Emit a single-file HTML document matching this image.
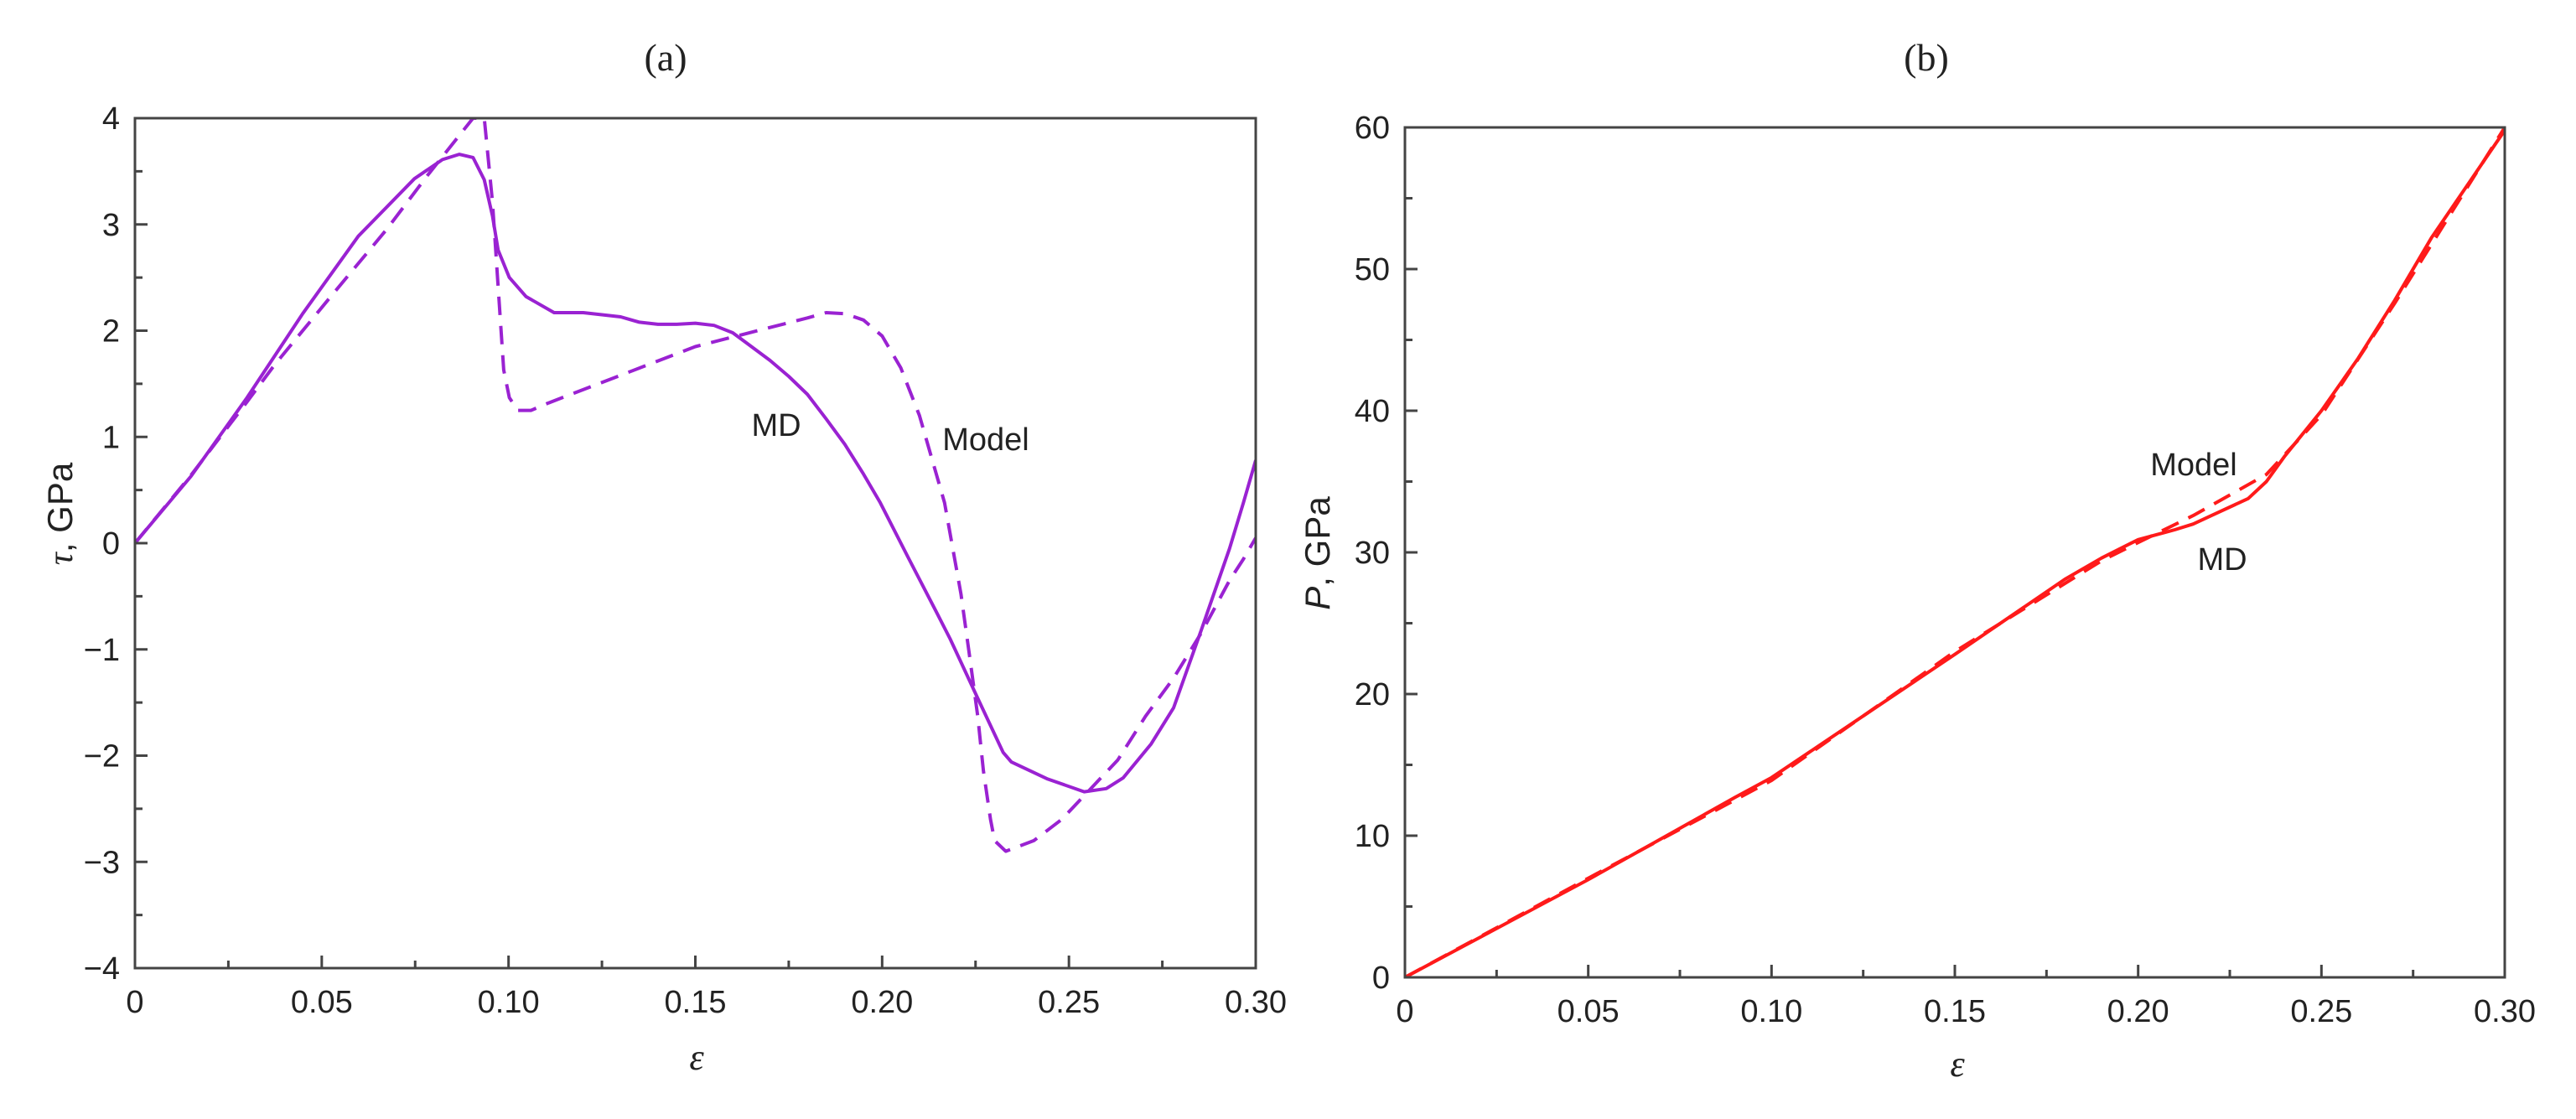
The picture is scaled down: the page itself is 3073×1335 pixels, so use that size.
<!DOCTYPE html>
<html><head><meta charset="utf-8"><style>
html,body{margin:0;padding:0;background:#fff}
svg{display:block}
text{font-family:"Liberation Sans",sans-serif;fill:#222}
</style></head><body>
<svg id="fig" width="3073" height="1335" viewBox="0 0 3073 1335" xmlns="http://www.w3.org/2000/svg"></svg>
<script>
// Panel (a) data
const aMdX = [0,0.015,0.030,0.0449,0.0598,0.0748,0.0823,0.0868,0.0905,0.0935,0.0957,0.0972,0.1002,0.1047,0.1122,0.12,0.125,0.13,0.135,0.14,0.145,0.15,0.155,0.16,0.165,0.17,0.175,0.18,0.185,0.19,0.195,0.1995,0.2069,0.2144,0.2182,0.2256,0.2324,0.2346,0.2443,0.2541,0.26,0.2645,0.272,0.278,0.2855,0.293,0.2967,0.30];
const aMdY = [0,0.63,1.37,2.16,2.89,3.43,3.61,3.66,3.63,3.42,3.08,2.76,2.5,2.32,2.17,2.17,2.15,2.13,2.08,2.06,2.06,2.07,2.05,1.98,1.85,1.72,1.57,1.4,1.17,0.93,0.65,0.38,-0.13,-0.64,-0.9,-1.46,-1.97,-2.06,-2.22,-2.34,-2.31,-2.21,-1.89,-1.55,-0.81,-0.05,0.38,0.78];
const aModelX = [0,0.015,0.030,0.0374,0.0524,0.0673,0.0785,0.0905,0.0935,0.0957,0.0972,0.0987,0.1002,0.1025,0.106,0.1107,0.15,0.17,0.18,0.185,0.19,0.195,0.20,0.205,0.21,0.2167,0.2189,0.2211,0.2234,0.2256,0.2271,0.229,0.2301,0.2331,0.2406,0.2481,0.2556,0.2631,0.2705,0.278,0.2855,0.293,0.2967,0.30];
const aModelY = [0,0.64,1.33,1.68,2.32,2.95,3.47,4.0,4.0,3.21,2.42,1.63,1.37,1.25,1.25,1.32,1.85,2.03,2.12,2.17,2.16,2.1,1.95,1.65,1.2,0.38,-0.05,-0.48,-1.06,-1.63,-2.14,-2.6,-2.8,-2.9,-2.8,-2.6,-2.32,-2.04,-1.63,-1.27,-0.84,-0.35,-0.15,0.05];
// Panel (b) data
const bMdX = [0,0.05,0.09,0.10,0.15,0.18,0.19,0.20,0.21,0.215,0.22,0.23,0.235,0.24,0.25,0.26,0.27,0.28,0.29,0.30];
const bMdY = [0,6.9,12.7,14.1,22.8,28.1,29.6,30.9,31.6,32.0,32.6,33.8,35,36.8,40.0,43.7,47.8,52.2,56,59.8];
const bModelX = [0,0.05,0.10,0.15,0.19,0.20,0.215,0.235,0.25,0.27,0.30];
const bModelY = [0,7.0,13.9,23.0,29.4,30.7,32.6,35.5,39.7,47.6,60];
const xTickVals = [0,0.05,0.10,0.15,0.20,0.25,0.30];
const xTickLabels = ["0","0.05","0.10","0.15","0.20","0.25","0.30"];
const aYTicks = [-4,-3,-2,-1,0,1,2,3,4];
const aYTickLabels = ["\u22124","\u22123","\u22122","\u22121","0","1","2","3","4"];
const bYTicks = [0,10,20,30,40,50,60];
const bYTickLabels = ["0","10","20","30","40","50","60"];

const NS="http://www.w3.org/2000/svg";
const svg=document.getElementById('fig');
function mk(tag,attrs,parent){const e=document.createElementNS(NS,tag);for(const k in attrs)e.setAttribute(k,attrs[k]);(parent||svg).appendChild(e);return e;}

function panel(p){
  const g=mk('g',{});
  
  
  const sx=v=>p.x0+(v-p.xmin)/(p.xmax-p.xmin)*(p.x1-p.x0);
  const sy=v=>p.y1-(v-p.ymin)/(p.ymax-p.ymin)*(p.y1-p.y0);
  const clipId='clip-'+p.name;
  const cp=mk('clipPath',{id:clipId},g);
  mk('rect',{x:p.x0,y:p.y0,width:p.x1-p.x0,height:p.y1-p.y0},cp);
  p.series.forEach(s=>{
    let d='';
    s.x.forEach((v,i)=>{d+=(i?'L':'M')+sx(v).toFixed(1)+','+sy(s.y[i]).toFixed(1);});
    const path=mk('path',{d:d,fill:'none',stroke:p.color,'stroke-width':4,'stroke-linejoin':'round','clip-path':'url(#'+clipId+')'},g);
    if(s.dash)path.setAttribute('stroke-dasharray','22,13');
    
    
  });
  const fr=mk('rect',{x:p.x0,y:p.y0,width:p.x1-p.x0,height:p.y1-p.y0,fill:'none',stroke:'#444','stroke-width':3},g);
  
  
  xTickVals.forEach((v,i)=>{
    const X=sx(v);
    mk('line',{x1:X,y1:p.y1,x2:X,y2:p.y1-15,stroke:'#444','stroke-width':3},g);
    if(i<xTickVals.length-1){const Xm=sx(v+0.025);mk('line',{x1:Xm,y1:p.y1,x2:Xm,y2:p.y1-9,stroke:'#444','stroke-width':3},g);}
    const t=mk('text',{x:X,y:p.y1+53,'font-size':38,'text-anchor':'middle'},g);
    t.textContent=xTickLabels[i];
    
    
  });
  p.yt.forEach((v,i)=>{
    const Y=sy(v);
    mk('line',{x1:p.x0,y1:Y,x2:p.x0+15,y2:Y,stroke:'#444','stroke-width':3},g);
    if(i<p.yt.length-1){const Ym=sy(v+p.ystep/2);mk('line',{x1:p.x0,y1:Ym,x2:p.x0+9,y2:Ym,stroke:'#444','stroke-width':3},g);}
    const t=mk('text',{x:p.x0-18,y:Y+13,'font-size':38,'text-anchor':'end'},g);
    t.textContent=p.ytl[i];
    
    
  });
}

panel({name:'panel-a',x0:161,x1:1498,y0:141,y1:1155,xmin:0,xmax:0.3,ymin:-4,ymax:4,ystep:1,yt:aYTicks,ytl:aYTickLabels,color:'#9a22d2',
  series:[{name:'md-curve-a',x:aMdX,y:aMdY},{name:'model-curve-a',x:aModelX,y:aModelY,dash:true}]});
panel({name:'panel-b',x0:1676,x1:2988,y0:152,y1:1166,xmin:0,xmax:0.3,ymin:0,ymax:60,ystep:10,yt:bYTicks,ytl:bYTickLabels,color:'#ff1a1a',
  series:[{name:'md-curve-b',x:bMdX,y:bMdY},{name:'model-curve-b',x:bModelX,y:bModelY,dash:true}]});
</script>
<svg style="position:absolute;left:0;top:0" width="3073" height="1335">
<text x="794" y="84" font-size="46" text-anchor="middle" style="font-family:'Liberation Serif',serif">(a)</text>
<text x="2298" y="84" font-size="46" text-anchor="middle" style="font-family:'Liberation Serif',serif">(b)</text>
<text x="926" y="520" font-size="38" text-anchor="middle">MD</text>
<text x="1176" y="537" font-size="38" text-anchor="middle">Model</text>
<text x="2617" y="567" font-size="38" text-anchor="middle">Model</text>
<text x="2651" y="680" font-size="38" text-anchor="middle">MD</text>
<text x="831" y="1276" font-size="44" text-anchor="middle" style="font-family:'Liberation Serif',serif;font-style:italic">ε</text>
<text x="2335" y="1284" font-size="44" text-anchor="middle" style="font-family:'Liberation Serif',serif;font-style:italic">ε</text>
<text transform="translate(86,613) rotate(-90)" font-size="42" text-anchor="middle"><tspan style="font-family:'Liberation Serif',serif;font-style:italic">τ</tspan>, GPa</text>
<text transform="translate(1586,660) rotate(-90)" font-size="42" text-anchor="middle"><tspan font-style="italic">P</tspan>, GPa</text>
</svg>
</body></html>
